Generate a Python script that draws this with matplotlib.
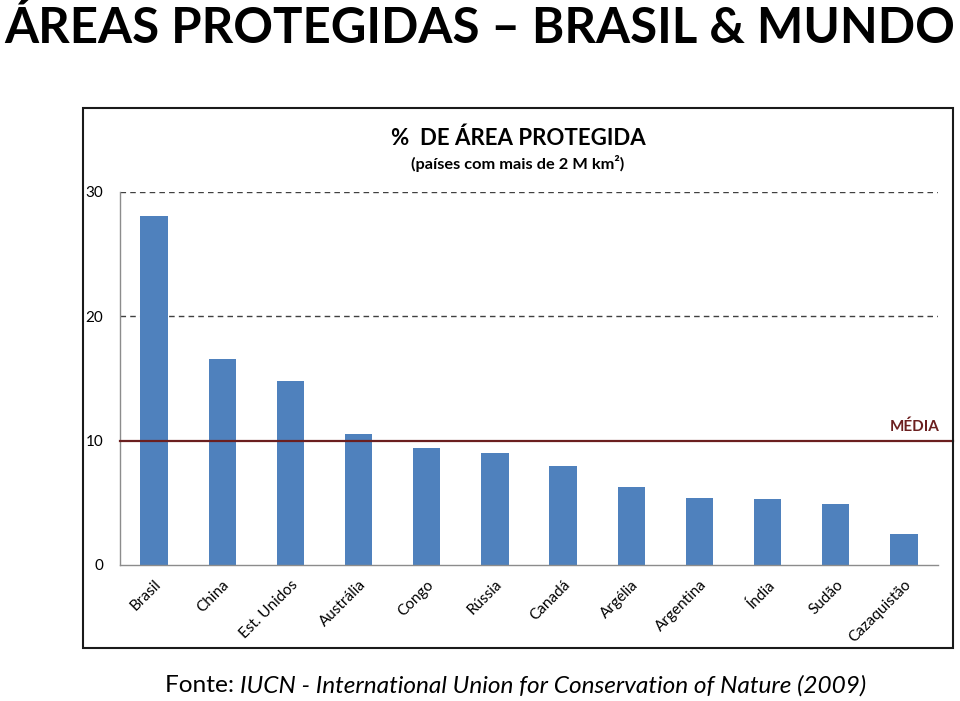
import matplotlib

matplotlib.use("Agg")
import matplotlib.pyplot as plt
from matplotlib.patches import Rectangle

# Dados (% de área protegida, países > 2 M km²)
paises = [
    "Brasil", "China", "Est. Unidos", "Austrália", "Congo", "Rússia",
    "Canadá", "Argélia", "Argentina", "Índia", "Sudão", "Cazaquistão",
]
percentual = [28.1, 16.6, 14.8, 10.5, 9.4, 9.0, 8.0, 6.3, 5.4, 5.3, 4.9, 2.5]
media = 10.0
y_ticks = [0, 10, 20, 30]

BAR = "#4F81BD"
MEDIA_COR = "#6B1F1F"
FONT = ["Lato", "DejaVu Sans"]

fig = plt.figure(figsize=(9.6, 7.01), dpi=100)
W, H = 960, 701

# área do gráfico em pixels: x 120..938, y 565 (0) .. 192 (30)
ax = fig.add_axes([120 / W, 1 - 565 / H, 818 / W, (565 - 192) / H])

x = range(len(paises))
ax.bar(x, percentual, width=0.4, color=BAR, zorder=2)
ax.set_xlim(-0.5, len(paises) - 0.5)
ax.set_ylim(0, 30)

ax.set_yticks(y_ticks)
ax.set_yticklabels([str(v) for v in y_ticks], fontsize=11, family=FONT)
ax.set_xticks(list(x))
ax.set_xticklabels(paises, rotation=45, ha="right", rotation_mode="anchor",
                   fontsize=11, family=FONT)
ax.tick_params(axis="both", length=0)
ax.tick_params(axis="y", pad=12)
ax.tick_params(axis="x", pad=9)

for v in (20, 30):
    ax.axhline(v, color="#404040", lw=1, ls=(0, (4, 3)), zorder=1)

for side in ("top", "right"):
    ax.spines[side].set_visible(False)
for side in ("left", "bottom"):
    ax.spines[side].set_color("#8C8C8C")
    ax.spines[side].set_linewidth(1)

# linha da média, estendida até a borda do quadro
ax.axhline(media, xmin=0, xmax=(953 - 120) / 818, color=MEDIA_COR, lw=1.6,
           clip_on=False, zorder=3)
ax.text((940 - 120) / 818, media + 0.5, "MÉDIA", transform=ax.get_yaxis_transform(),
        ha="right", va="bottom", fontsize=11, fontweight="bold", color=MEDIA_COR,
        family=FONT)

# quadro do gráfico
fig.patches.append(Rectangle((83 / W, 1 - 648 / H), (953 - 83) / W, (648 - 108) / H,
                             transform=fig.transFigure, fill=False,
                             edgecolor="#1a1a1a", lw=1.5))

titulo = fig.text(0.5, 1 - 28 / H, "ÁREAS PROTEGIDAS – BRASIL & MUNDO", ha="center",
                  va="center", fontsize=40, fontweight="bold", family=FONT)
fig.text(518 / W, 1 - 138 / H, "%  DE ÁREA PROTEGIDA", ha="center", va="center",
         fontsize=16, fontweight="bold", family=FONT)
fig.text(518 / W, 1 - 163 / H, "(países com mais de 2 M km²)", ha="center",
         va="center", fontsize=11.8, fontweight="bold", family=FONT)

t1 = fig.text(165 / W, 1 - 686 / H, "Fonte: ", ha="left", va="center",
              fontsize=17.6, family=FONT)
fig.canvas.draw()
# ajusta o título para ocupar a largura da página
largura = titulo.get_window_extent().width
titulo.set_fontsize(40 * 950 / largura)
bb = t1.get_window_extent()
fig.text(bb.x1 / W, 1 - 686 / H,
         "IUCN - International Union for Conservation of Nature (2009)",
         ha="left", va="center", fontsize=17.6, style="italic", family=FONT)

fig.savefig("out.png", dpi=100)
